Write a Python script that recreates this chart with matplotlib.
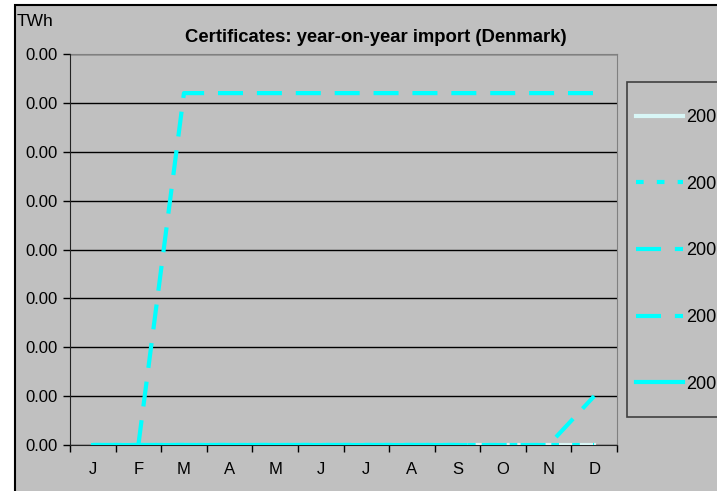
import matplotlib.pyplot as plt
import matplotlib.patches as patches
import numpy as np

plt.rcParams['font.family'] = ['Liberation Sans', 'DejaVu Sans']
plt.rcParams['lines.scale_dashes'] = False

months = ["J", "F", "M", "A", "M", "J", "J", "A", "S", "O", "N", "D"]
years = ["2005", "2006", "2007", "2008", "2009"]
nan = np.nan
s2005 = [0, 0, 0, 0, 0, 0, 0, 0, 0, 0, 0, 0]
s2006 = [0, 0, 0, 0, 0, 0, 0, 0, 0, 0, 0, 0]
s2007 = [nan, 0, 0.0036, 0.0036, 0.0036, 0.0036, 0.0036, 0.0036, 0.0036, 0.0036, 0.0036, 0.0036]
s2008 = [0, 0, 0, 0, 0, 0, 0, 0, 0, 0, 0, 0.0005]
s2009 = [0, 0, 0, 0, 0, 0, 0, 0, 0, nan, nan, nan]

bg = '#c0c0c0'
cyan = '#00ffff'

fig = plt.figure(figsize=(7.17, 4.91), dpi=100, facecolor='white')
# outer chart area border
fig.patches.append(patches.Rectangle((15 / 717, -0.1), 1.0, 1.1 - 5 / 491,
                                     transform=fig.transFigure, facecolor=bg,
                                     edgecolor='black', linewidth=1.5, zorder=-1))

ax = fig.add_axes([70 / 717, 46 / 491, 547 / 717, 391 / 491])
ax.set_zorder(1)
ax.set_facecolor(bg)
x = np.arange(12)

ax.plot(x, s2005, color='#d8f6f6', lw=3, label=years[0], zorder=3)
ax.plot(x, s2006, color=cyan, lw=3, dashes=(5.5, 9.5), label=years[1], zorder=4)
ax.plot(x, s2007, color=cyan, lw=3, dashes=(18, 10), label=years[2], zorder=4)
ax.plot(x, s2008, color=cyan, lw=3, dashes=(18, 10), label=years[3], zorder=4)
ax.plot(x, s2009, color=cyan, lw=3, label=years[4], zorder=5)

ax.set_xlim(-0.5, 11.5)
ax.set_ylim(0, 0.004)
ax.set_yticks(np.arange(0, 0.00401, 0.0005))
ax.yaxis.set_major_formatter(plt.FormatStrFormatter('%.2f'))
ax.set_xticks(np.arange(-0.5, 12, 1))
ax.set_xticklabels([])
ax.set_xticks(x, minor=True)
ax.set_xticklabels(months, minor=True)
ax.tick_params(axis='x', which='minor', length=0, pad=12, labelsize=12)
ax.tick_params(axis='x', which='major', length=5, direction='out', width=1)
ax.tick_params(axis='y', length=5, direction='out', width=1, labelsize=12, pad=4)
ax.grid(axis='y', color='black', lw=1, zorder=1)
for side in ['top', 'right']:
    ax.spines[side].set_color('#808080')
    ax.spines[side].set_zorder(2)
ax.spines['left'].set_color('#222222')
ax.spines['bottom'].set_color('#222222')

fig.text(376 / 717, 1 - 37 / 491, "Certificates: year-on-year import (Denmark)",
         ha='center', va='center', fontsize=13.3, fontweight='bold')
fig.text(17 / 717, 1 - 22 / 491, "TWh", ha='left', va='center', fontsize=12.5)

# legend frame drawn separately so the entries can sit where they do in the reference
fig.patches.append(patches.Rectangle((627 / 717, 1 - 417 / 491), 0.5, 335 / 491,
                                     transform=fig.transFigure, facecolor=bg,
                                     edgecolor='#404040', linewidth=1.2, zorder=2))
leg = fig.legend(loc='upper left', bbox_to_anchor=(636 / 717, 1 - 109 / 491),
                 fontsize=13, handlelength=2.6, handletextpad=0.15,
                 labelspacing=2.75, borderpad=0, borderaxespad=0, frameon=False)
leg.set_zorder(3)

fig.savefig('out.png', dpi=100, facecolor='white')
